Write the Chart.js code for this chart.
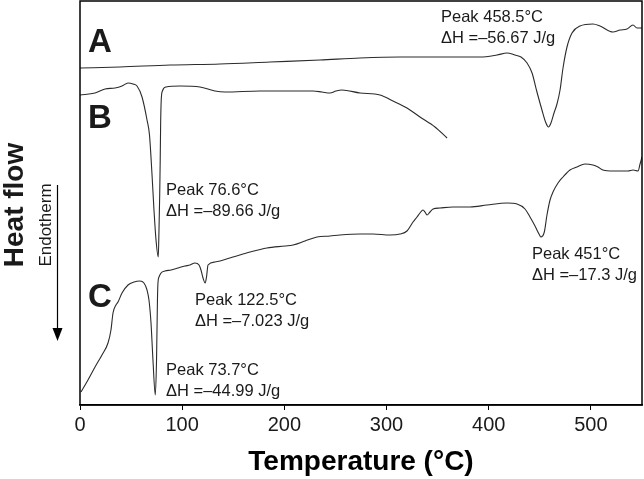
<!DOCTYPE html>
<html>
<head>
<meta charset="utf-8">
<script src="https://cdn.jsdelivr.net/npm/chart.js@4.4.1/dist/chart.umd.min.js"></script>
<style>
  html, body { margin: 0; padding: 0; background: #fff; }
  #wrap { width: 644px; height: 479px; }
</style>
</head>
<body>
<div id="wrap"><canvas id="dsc" width="644" height="479"></canvas></div>
<script>
// DSC traces: temperature (°C) vs heat flow (arbitrary units, curves offset)
const tempA = [0, 39.1, 88.1, 137.0, 185.9, 234.9, 274.0, 313.2, 352.3, 391.5, 408.1, 417.9, 425.7, 431.6,
  437.5, 442.4, 447.2, 452.1, 456.0, 458.5, 460.9, 463.9, 466.8, 469.8, 472.7, 476.6, 481.5, 489.3,
  502.0, 508.9, 521.6, 528.5, 535.3, 541.2, 545.1, 550.0];
const flowA = [337, 338, 340, 341, 343, 345, 347, 348, 348, 348, 350, 352, 350, 348,
  342, 332, 313, 295, 282, 278, 282, 292, 301, 315, 337, 358, 372, 379,
  381, 379, 373, 375, 376, 380, 377, 377];

const tempB = [0, 14.7, 24.5, 34.3, 41.1, 47.0, 51.9, 55.8, 60.7, 65.6, 68.0, 70.5, 72.4, 74.4, 76.6,
  77.3, 78.0, 78.5, 78.9, 79.5, 80.7, 84.2, 97.9, 117.4, 132.1, 141.9, 176.2, 215.3, 228.0, 236.8,
  244.7, 250.5, 256.4, 274.0, 293.6, 306.3, 320.0, 332.7, 347.4, 359.2];
const flowB = [310, 312, 316, 317, 319, 322, 321, 319, 308, 285, 270, 230, 195, 165, 148,
  175, 210, 245, 280, 305, 314, 318, 319, 318, 314, 313, 314, 314, 314, 313,
  312, 314, 315, 312, 310, 304, 297, 288, 278, 267];

const tempC = [1.0, 7.8, 14.7, 21.5, 27.4, 30.3, 32.3, 35.2, 37.2, 41.1, 47.0, 52.8, 58.7, 62.6, 65.6,
  67.5, 69.5, 71.4, 73.7, 74.9, 75.8, 76.3, 77.3, 79.3, 83.2, 89.1, 95.9, 102.8, 107.7, 112.5,
  116.5, 118.4, 120.4, 122.5, 123.8, 125.3, 132.1, 149.7, 166.4, 183.0, 200.6, 208.5, 220.2, 231.9,
  244.7, 254.4, 274.0, 286.7, 303.4, 313.2, 320.0, 325.9, 329.8, 332.7, 335.7, 337.6, 339.6, 342.5,
  345.5, 352.3, 365.0, 381.7, 398.3, 417.9, 427.7, 435.5, 440.4, 445.3, 449.2, 451.0, 454.4, 457.0,
  460.0, 462.9, 467.8, 472.7, 479.5, 486.4, 494.2, 502.0, 506.9, 511.8, 521.6, 528.5, 536.3, 541.2,
  546.1, 548.1, 550.0];
const flowC = [13, 25, 38, 50, 62, 75, 92, 100, 103, 112, 120, 123, 124, 122, 115,
  105, 82, 45, 10, 45, 105, 122, 128, 132, 134, 135, 137, 139, 140, 142,
  140, 135, 127, 122, 128, 140, 143, 148, 153, 157, 159, 160, 164, 168,
  169, 170, 171, 171, 170, 171, 174, 183, 188, 192, 195, 193, 190, 193,
  196, 197, 198, 198, 200, 202, 201, 196, 188, 179, 171, 168, 173, 190,
  205, 213, 222, 228, 235, 238, 241, 240, 238, 235, 234, 234, 234, 235,
  234, 241, 248];

const xTicks = [0, 100, 200, 300, 400, 500];

// peak annotations: text lines and where the first baseline sits (°C, flow units)
const notes = [
  { lines: ["Peak 458.5°C", "ΔH =–56.67 J/g"], t: 353.3, v: 383 },
  { lines: ["Peak 76.6°C", "ΔH =–89.66 J/g"], t: 84.2, v: 210 },
  { lines: ["Peak 451°C", "ΔH =–17.3 J/g"], t: 442.3, v: 146 },
  { lines: ["Peak 122.5°C", "ΔH =–7.023 J/g"], t: 112.5, v: 100 },
  { lines: ["Peak 73.7°C", "ΔH =–44.99 J/g"], t: 84.2, v: 30 },
];
const curveLetters = [
  { text: "A", t: 7.8, v: 353 },
  { text: "B", t: 7.8, v: 277 },
  { text: "C", t: 7.8, v: 98 },
];

const FONT = '"Liberation Sans", Arial, sans-serif';
const INK = "#1a1a1a";

const toPts = (xs, ys) => xs.map((x, i) => ({ x, y: ys[i] }));

const trace = (label, xs, ys) => ({
  label,
  data: toPts(xs, ys),
  borderColor: "#2b2b2b",
  borderWidth: 1.1,
  pointRadius: 0,
  fill: false,
  showLine: true,
  cubicInterpolationMode: "monotone",
});

const decorations = {
  id: "decorations",
  afterDraw(chart) {
    const { ctx, chartArea: a, scales } = chart;
    const x = scales.x, y = scales.y;
    ctx.save();

    // frame
    ctx.strokeStyle = "#000";
    ctx.lineWidth = 1.5;
    ctx.strokeRect(a.left, a.top, a.right - a.left, a.bottom - a.top);

    ctx.fillStyle = INK;
    ctx.textAlign = "left";
    ctx.textBaseline = "alphabetic";

    ctx.font = "bold 33px " + FONT;
    curveLetters.forEach(l => ctx.fillText(l.text, x.getPixelForValue(l.t), y.getPixelForValue(l.v)));

    ctx.font = "16.5px " + FONT;
    notes.forEach(n => {
      const px = x.getPixelForValue(n.t);
      const py = y.getPixelForValue(n.v);
      n.lines.forEach((s, i) => ctx.fillText(s, px, py + i * 21));
    });

    // y axis caption, rotated
    ctx.textAlign = "center";
    ctx.save();
    ctx.translate(22.5, 205);
    ctx.rotate(-Math.PI / 2);
    ctx.font = "bold 28px " + FONT;
    ctx.fillText("Heat flow", 0, 0);
    ctx.restore();

    ctx.save();
    ctx.translate(51, 225);
    ctx.rotate(-Math.PI / 2);
    ctx.font = "17px " + FONT;
    ctx.fillText("Endotherm", 0, 0);
    ctx.restore();

    // endotherm arrow
    ctx.strokeStyle = "#000";
    ctx.lineWidth = 1.2;
    ctx.beginPath();
    ctx.moveTo(57.5, 185);
    ctx.lineTo(57.5, 330);
    ctx.stroke();
    ctx.fillStyle = "#000";
    ctx.beginPath();
    ctx.moveTo(52.5, 328);
    ctx.lineTo(62.5, 328);
    ctx.lineTo(57.5, 341);
    ctx.closePath();
    ctx.fill();

    ctx.restore();
  },
};

new Chart(document.getElementById("dsc"), {
  type: "scatter",
  data: {
    datasets: [
      trace("A", tempA, flowA),
      trace("B", tempB, flowB),
      trace("C", tempC, flowC),
    ],
  },
  options: {
    responsive: false,
    animation: false,
    devicePixelRatio: 1,
    layout: { padding: { left: 80, top: 1, right: 2, bottom: 0 } },
    plugins: { legend: { display: false }, tooltip: { enabled: false } },
    scales: {
      x: {
        type: "linear",
        min: 0,
        max: 550,
        afterBuildTicks: s => { s.ticks = xTicks.map(v => ({ value: v })); },
        afterFit: s => { s.height = 74; },
        grid: { drawOnChartArea: false, drawTicks: true, tickLength: 5, color: "#000", lineWidth: 1 },
        border: { display: true, color: "#000", width: 1.5 },
        ticks: { color: INK, font: { family: FONT, size: 20 }, padding: 3, maxRotation: 0 },
        title: {
          display: true,
          text: "Temperature (°C)",
          color: "#000",
          font: { family: FONT, size: 28, weight: "bold" },
          padding: { top: 0, bottom: 0 },
        },
      },
      y: {
        display: false,
        min: 0,
        max: 404,
      },
    },
  },
  plugins: [decorations],
});
</script>
</body>
</html>
